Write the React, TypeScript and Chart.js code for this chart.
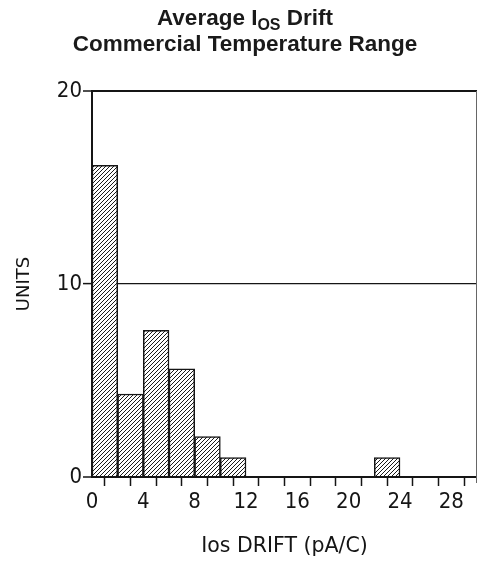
import React, { useEffect, useRef } from "react";
import { Chart, registerables } from "chart.js";

Chart.register(...registerables);

// ---- data ----
const binStarts = [0, 2, 4, 6, 8, 10, 22];
const binWidth = 2;
const unitCounts = [16.15, 4.3, 7.6, 5.6, 2.1, 1.0, 1.0];
const xMin = 0;
const xMax = 30;
const xMinorStep = 2;
const xTickLabels = ["0", "4", "8", "12", "16", "20", "24", "28"];
const yMin = 0;
const yMax = 20;
const yStep = 10;
const titleMain = "Average I";
const titleSub = "OS";
const titleTail = " Drift";
const titleLine2 = "Commercial Temperature Range";
const xTitle = "Ios DRIFT (pA/C)";
const yTitle = "UNITS";

const TICK_FONT = "'DejaVu Sans Condensed', 'Liberation Sans Narrow', 'DejaVu Sans', sans-serif";
const LABEL_FONT = "'DejaVu Sans', sans-serif";

function makeHatch(): CanvasPattern | string {
  const c = document.createElement("canvas");
  c.width = 4;
  c.height = 4;
  const g = c.getContext("2d");
  if (!g) return "#ccc";
  g.fillStyle = "#ffffff";
  g.fillRect(0, 0, 4, 4);
  g.strokeStyle = "#1a1a1a";
  g.lineWidth = 1;
  g.beginPath();
  g.moveTo(0, 4);
  g.lineTo(4, 0);
  g.moveTo(-1, 1);
  g.lineTo(1, -1);
  g.moveTo(3, 5);
  g.lineTo(5, 3);
  g.stroke();
  return g.createPattern(c, "repeat") || "#ccc";
}

const rightBorder = {
  id: "rightBorder",
  afterDraw(chart: any) {
    const { ctx, chartArea } = chart;
    ctx.save();
    ctx.strokeStyle = "#666";
    ctx.lineWidth = 1;
    ctx.beginPath();
    const x = Math.round(chartArea.right) - 0.5;
    ctx.moveTo(x, chartArea.top);
    ctx.lineTo(x, chartArea.bottom + 6);
    ctx.stroke();
    ctx.restore();
  },
};

export default function App() {
  const ref = useRef<HTMLCanvasElement>(null);

  useEffect(() => {
    document.body.style.margin = "0";
    const canvas = ref.current;
    if (!canvas) return;
    const hatch = makeHatch();
    const chart = new Chart(canvas, {
      type: "bar",
      data: {
        datasets: [
          {
            data: binStarts.map((s, i) => ({ x: s + binWidth / 2, y: unitCounts[i] })),
            backgroundColor: hatch as any,
            borderColor: "#151515",
            borderWidth: 1.5,
            barPercentage: 1,
            categoryPercentage: 1,
            borderSkipped: "bottom",
          } as any,
        ],
      },
      options: {
        responsive: false,
        animation: false,
        events: [],
        layout: { padding: { top: 91, right: 0, left: 0, bottom: 0 } },
        plugins: {
          legend: { display: false },
          tooltip: { enabled: false },
          title: { display: false },
        },
        scales: {
          x: {
            type: "linear",
            min: xMin,
            max: xMax,
            offset: false,
            ticks: {
              stepSize: xMinorStep,
              autoSkip: false,
              maxRotation: 0,
              minRotation: 0,
              padding: 3,
              color: "#151515",
              font: { family: TICK_FONT, size: 22 },
              callback: (v: any) => {
                const s = String(v);
                return xTickLabels.includes(s) ? s : "";
              },
            },
            grid: {
              drawOnChartArea: false,
              drawTicks: true,
              tickLength: 9,
              tickWidth: 1.5,
              tickColor: "#151515",
              color: "#151515",
            },
            border: { display: true, color: "#151515", width: 2 },
            title: {
              display: true,
              text: xTitle,
              color: "#151515",
              font: { family: LABEL_FONT, size: 20.5 },
              padding: { top: 0, bottom: 6 },
            },
            afterFit: (s: any) => {
              s.height = 88;
              s.paddingLeft = 0;
              s.paddingRight = 0;
            },
          } as any,
          y: {
            type: "linear",
            min: yMin,
            max: yMax,
            ticks: {
              stepSize: yStep,
              padding: 1,
              color: "#151515",
              font: { family: TICK_FONT, size: 22 },
            },
            grid: {
              color: "#151515",
              lineWidth: (ctx: any) => (ctx.tick && ctx.tick.value === 10 ? 1.2 : 2),
              drawTicks: true,
              tickLength: 9,
              tickWidth: 1.5,
              tickColor: "#151515",
            },
            border: { display: true, color: "#151515", width: 2 },
            title: {
              display: true,
              text: yTitle,
              color: "#151515",
              font: { family: LABEL_FONT, size: 18 },
              padding: { top: 14, bottom: 0 },
            },
            afterFit: (s: any) => {
              s.width = 92;
            },
          } as any,
        },
      },
      plugins: [rightBorder],
    });
    return () => chart.destroy();
  }, []);

  return (
    <div style={{ position: "relative", width: 477, height: 565, background: "#fff" }}>
      <div
        style={{
          position: "absolute",
          left: 13,
          top: 5,
          width: 464,
          textAlign: "center",
          fontFamily: "'Liberation Sans', Arial, sans-serif",
          fontWeight: "bold",
          fontSize: 22.5,
          lineHeight: "26px",
          color: "#1a1a1a",
          zIndex: 2,
        }}
      >
        <div>
          {titleMain}
          <span style={{ fontSize: 16, position: "relative", top: 5, lineHeight: 0 }}>{titleSub}</span>
          {titleTail}
        </div>
        <div>{titleLine2}</div>
      </div>
      <canvas ref={ref} width={477} height={565} style={{ display: "block" }} />
    </div>
  );
}
